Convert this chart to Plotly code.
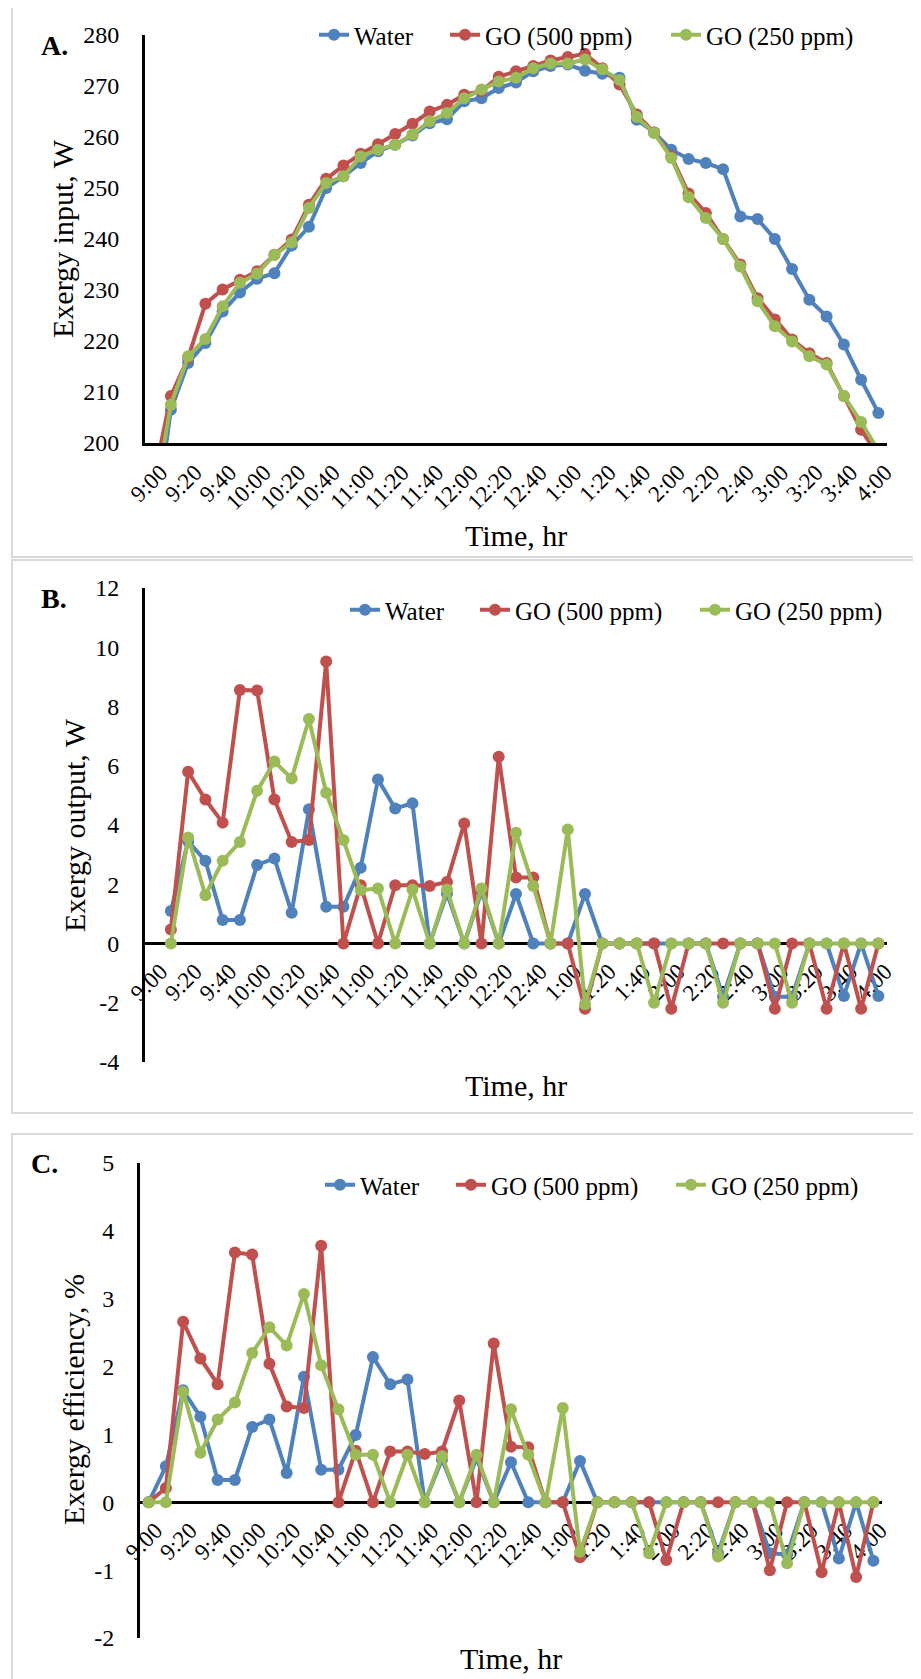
import plotly.graph_objects as go

W, H = 921, 1679
OFF = 8  # page body margin of the html page

times = ["9:00", "9:10", "9:20", "9:30", "9:40", "9:50", "10:00", "10:10", "10:20", "10:30",
         "10:40", "10:50", "11:00", "11:10", "11:20", "11:30", "11:40", "11:50", "12:00", "12:10",
         "12:20", "12:30", "12:40", "12:50", "1:00", "1:10", "1:20", "1:30", "1:40", "1:50",
         "2:00", "2:10", "2:20", "2:30", "2:40", "2:50", "3:00", "3:10", "3:20", "3:30",
         "3:40", "3:50", "4:00"]
tick_labels = times[::2]

series_names = ["Water", "GO (500 ppm)", "GO (250 ppm)"]
series_colors = ["#4F81BD", "#C0504D", "#9BBB59"]

# Panel A: Exergy input, W
input_water = [182, 206.5, 215.7, 219.6, 225.8, 229.5, 232.2, 233.3, 238.7, 242.4, 250.0, 252.3,
               254.9, 257.2, 258.5, 260.3, 262.7, 263.5, 267.0, 267.6, 269.6, 270.7, 272.9, 273.9,
               274.2, 273.0, 272.4, 271.6, 263.4, 260.9, 257.5, 255.7, 254.9, 253.7, 244.4, 243.9,
               240.0, 234.1, 228.1, 224.8, 219.3, 212.4, 205.9]
input_go500 = [193, 209.2, 216.7, 227.3, 230.1, 232.0, 233.7, 236.9, 239.9, 246.7, 251.8, 254.4,
               256.7, 258.6, 260.6, 262.6, 265.0, 266.3, 268.3, 269.0, 271.8, 272.9, 273.9, 275.0,
               275.7, 276.3, 273.5, 270.3, 264.4, 260.9, 256.2, 248.9, 245.1, 240.0, 235.0, 228.4,
               224.2, 220.3, 217.6, 215.7, 209.2, 202.6, 197.5]
input_go250 = [188, 207.5, 217.0, 220.4, 226.8, 231.4, 233.2, 236.9, 239.3, 246.1, 251.0, 252.3,
               256.2, 257.5, 258.5, 260.5, 263.1, 264.7, 267.6, 269.3, 270.9, 271.6, 273.5, 274.4,
               274.4, 275.2, 273.3, 271.2, 263.9, 260.8, 255.9, 248.2, 244.1, 240.0, 234.6, 227.8,
               222.9, 219.9, 217.0, 215.4, 209.2, 204.1, 198.5]

# Panel B: Exergy output, W
output_water = [None, 1.10, 3.45, 2.79, 0.79, 0.79, 2.65, 2.87, 1.04, 4.53, 1.24, 1.24,
                2.56, 5.54, 4.56, 4.73, 0, 1.69, 0, 1.75, 0, 1.67, 0, 0,
                0, 1.67, 0, 0, 0, 0, 0, 0, 0, -1.8, 0, 0,
                -1.8, -1.8, 0, 0, -1.77, 0, -1.77]
output_go500 = [None, 0.47, 5.80, 4.86, 4.08, 8.56, 8.54, 4.86, 3.43, 3.49, 9.52, 0,
                1.97, 0, 1.97, 1.97, 1.94, 2.08, 4.05, 0, 6.30, 2.23, 2.23, 0,
                0, -2.2, 0, 0, 0, 0, -2.2, 0, 0, 0, 0, 0,
                -2.2, 0, 0, -2.2, 0, -2.2, 0]
output_go250 = [None, 0, 3.58, 1.63, 2.79, 3.43, 5.16, 6.14, 5.57, 7.58, 5.09, 3.49,
                1.80, 1.86, 0, 1.82, 0, 1.82, 0, 1.86, 0, 3.74, 1.94, 0,
                3.85, -2.05, 0, 0, 0, -2.0, 0, 0, 0, -2.0, 0, 0,
                0, -2.0, 0, 0, 0, 0, 0]

# Panel C: Exergy efficiency, %
eff_water = [0, 0.53, 1.65, 1.26, 0.33, 0.33, 1.11, 1.22, 0.43, 1.85, 0.48, 0.48,
             0.99, 2.14, 1.74, 1.81, 0, 0.63, 0, 0.65, 0, 0.59, 0, 0,
             0, 0.61, 0, 0, 0, 0, 0, 0, 0, -0.75, 0, 0,
             -0.75, -0.77, 0, 0, -0.83, 0, -0.86]
eff_go500 = [0, 0.21, 2.66, 2.12, 1.74, 3.68, 3.65, 2.04, 1.41, 1.39, 3.78, 0,
             0.76, 0, 0.75, 0.75, 0.71, 0.75, 1.50, 0, 2.34, 0.82, 0.81, 0,
             0, -0.81, 0, 0, 0, 0, -0.85, 0, 0, 0, 0, 0,
             -1.0, 0, 0, -1.03, 0, -1.10, 0]
eff_go250 = [0, 0, 1.63, 0.73, 1.22, 1.47, 2.20, 2.58, 2.31, 3.07, 2.02, 1.37,
             0.70, 0.70, 0, 0.70, 0, 0.68, 0, 0.70, 0, 1.37, 0.70, 0,
             1.39, -0.73, 0, 0, 0, -0.75, 0, 0, 0, -0.8, 0, 0,
             0, -0.9, 0, 0, 0, 0, 0]

# y tick values and labels
ticks_a = [200, 210, 220, 230, 240, 250, 260, 270, 280]
ticks_b = [-4, -2, 0, 2, 4, 6, 8, 10, 12]
ticks_c = [-2, -1, 0, 1, 2, 3, 4, 5]

panels = [
    dict(data=[input_water, input_go500, input_go250], label="A.", ytitle="Exergy input, W",
         yticks=ticks_a),
    dict(data=[output_water, output_go500, output_go250], label="B.", ytitle="Exergy output, W",
         yticks=ticks_b),
    dict(data=[eff_water, eff_go500, eff_go250], label="C.", ytitle="Exergy efficiency, %",
         yticks=ticks_c),
]

FONT = "Liberation Serif, Times New Roman, serif"


def px(x):
    return (x - OFF) / W


def py(y):
    return 1 - (y - OFF) / H


# layout geometry (pixels in the final page)
geom = [
    dict(x0=145, x1=887, ytop=35, ybot=443, zero=None, box=(12, 7, 917, 557),
         lab=(54, 45), yt=(62, 239), xt=(516, 535), leg_y=35, leg_x=[354, 485, 706]),
    dict(x0=145, x1=887, ytop=588, ybot=1062, zero=943, box=(12, 560, 917, 1113),
         lab=(54, 598), yt=(74, 825), xt=(516, 1085), leg_y=610, leg_x=[385, 515, 735]),
    dict(x0=140, x1=882, ytop=1163, ybot=1638, zero=1502, box=(12, 1134, 917, 1700),
         lab=(44, 1163), yt=(73, 1400), xt=(511, 1658), leg_y=1185, leg_x=[360, 491, 711]),
]

fig = go.Figure()
layout = dict(width=W, height=H, margin=dict(l=0, r=0, t=0, b=0, autoexpand=False), autosize=False,
              plot_bgcolor="white", paper_bgcolor="white",
              font=dict(family=FONT, color="black"), shapes=[], annotations=[])

leg_idx = 0
for p, (panel, g) in enumerate(zip(panels, geom)):
    sfx = "" if p == 0 else str(p + 1)
    xa, ya = "x" + sfx, "y" + sfx
    for s in range(3):
        leg_idx += 1
        lname = "legend" if leg_idx == 1 else f"legend{leg_idx}"
        fig.add_trace(go.Scatter(
            x=times, y=panel["data"][s], name=series_names[s], mode="lines+markers",
            line=dict(color=series_colors[s], width=4),
            marker=dict(color=series_colors[s], size=12),
            xaxis=xa, yaxis=ya, legend=lname, showlegend=True, connectgaps=False))
        layout[lname] = dict(x=px(g["leg_x"][s] - 40), y=py(g["leg_y"]), xanchor="left",
                             yanchor="middle", orientation="h", bgcolor="rgba(0,0,0,0)",
                             visible=True,
                             font=dict(family=FONT, size=25, color="black"))
    yt = panel["yticks"]
    xaxis = dict(domain=[px(g["x0"]), px(g["x1"])], type="category", range=[-0.5, 42.5],
                 tickmode="array", tickvals=tick_labels, ticktext=tick_labels, tickangle=-45,
                 tickfont=dict(family=FONT, size=23, color="black"), showline=True,
                 linecolor="black", linewidth=3, ticks="", showgrid=False, zeroline=False,
                 layer="below traces", ticklabelstandoff=4, ticklabelshift=7, automargin=False)
    if g["zero"] is None:
        xaxis["anchor"] = ya
    else:
        xaxis["anchor"] = "free"
        xaxis["position"] = py(g["zero"])
    yaxis = dict(domain=[py(g["ybot"]), py(g["ytop"])], range=[yt[0], yt[-1]],
                 tickmode="array", tickvals=yt, ticktext=[str(v) for v in yt],
                 anchor=xa, showline=True, linecolor="black", linewidth=3,
                 ticks="", showgrid=False, zeroline=False, automargin=False,
                 tickfont=dict(family=FONT, size=24, color="black"), ticklabelstandoff=18,
                 layer="below traces")
    layout["xaxis" + sfx] = xaxis
    layout["yaxis" + sfx] = yaxis

    bx0, by0, bx1, by1 = g["box"]
    layout["shapes"].append(dict(type="rect", xref="paper", yref="paper", x0=px(bx0), x1=px(bx1),
                                 y0=py(by1), y1=py(by0), line=dict(color="#d9d9d9", width=2),
                                 layer="below"))
    layout["annotations"].append(dict(text="<b>" + panel["label"] + "</b>", xref="paper", yref="paper",
                                      x=px(g["lab"][0]), y=py(g["lab"][1]), showarrow=False,
                                      xanchor="center", yanchor="middle",
                                      font=dict(family=FONT, size=28, color="black")))
    layout["annotations"].append(dict(text=panel["ytitle"], xref="paper", yref="paper", textangle=-90,
                                      x=px(g["yt"][0]), y=py(g["yt"][1]), showarrow=False,
                                      xanchor="center", yanchor="middle",
                                      font=dict(family=FONT, size=30, color="black")))
    layout["annotations"].append(dict(text="Time, hr", xref="paper", yref="paper",
                                      x=px(g["xt"][0]), y=py(g["xt"][1]), showarrow=False,
                                      xanchor="center", yanchor="middle",
                                      font=dict(family=FONT, size=30, color="black")))

fig.update_layout(**layout)
fig.write_html("out.html")
